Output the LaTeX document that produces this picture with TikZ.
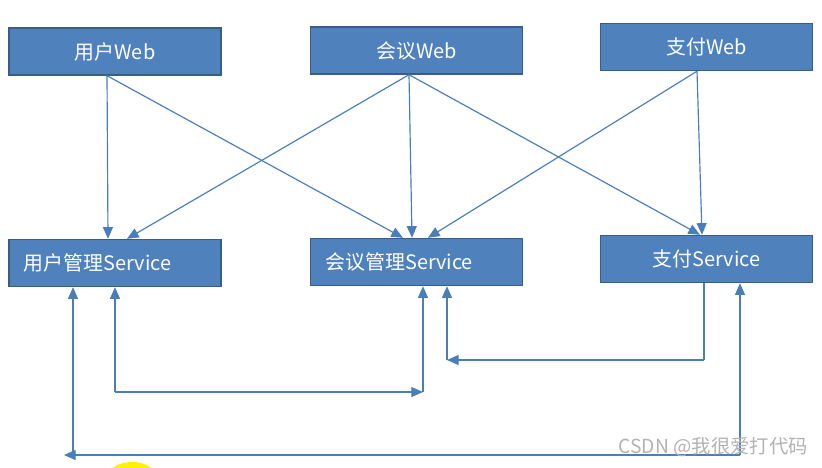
\documentclass[tikz,border=0pt]{standalone}
\usepackage{fontspec}
\setmainfont{Noto Sans CJK SC}
\usetikzlibrary{arrows.meta,calc}
\definecolor{boxblue}{HTML}{4F81BD}
\definecolor{boxedge}{HTML}{385D8A}
\definecolor{linkblue}{HTML}{4A7EBB}
\tikzset{
  svcbox/.style={draw=boxedge,line width=1.2pt,fill=boxblue,text=white,
    minimum width=6.36cm,minimum height=1.41cm,inner sep=0pt,
    font=\fontsize{17}{20}\selectfont},
  leftbox/.style={svcbox,align=left,text width=5.46cm,inner xsep=0.45cm},
  link/.style={draw=linkblue,line width=1pt,-{Triangle[length=0.35cm,width=0.3cm]}},
  plain/.style={draw=linkblue,line width=1pt}
}
\begin{document}
\begin{tikzpicture}[x=0.03cm,y=-0.03cm]
\useasboundingbox (0,0) rectangle (822,467);
% cursor mark
\begin{scope}
\clip (0,0) rectangle (822,467);
\fill[yellow] (132,474) ellipse (22 and 12);
\end{scope}
% web layer
\node[svcbox] (uweb) at (115,51.5) {用户Web};
\node[svcbox] (mweb) at (416.5,50.5) {会议Web};
\node[svcbox] (pweb) at (706.5,47) {支付Web};
% service layer
\node[leftbox] (usvc) at (115,263) {用户管理Service};
\node[leftbox] (msvc) at (416.5,262) {会议管理Service};
\node[svcbox] (psvc) at (706.5,259) {支付Service};
% web -> service
\draw[link] ($(uweb.south)+(-8,0)$) -- ($(usvc.north)+(-7,0)$);
\draw[link] ($(uweb.south)+(-8,0)$) -- ($(msvc.north)+(-13.5,0)$);
\draw[link] ($(mweb.south)+(-7.5,0)$) -- ($(usvc.north)+(12,0)$);
\draw[link] ($(mweb.south)+(-7.5,0)$) -- ($(msvc.north)+(-4.5,0)$);
\draw[link] ($(mweb.south)+(-7.5,0)$) -- ($(psvc.north)+(-6.5,0)$);
\draw[link] ($(pweb.south)+(-9.5,0)$) -- ($(psvc.north)+(-4.5,0)$);
\draw[link] ($(pweb.south)+(-9.5,0)$) -- ($(msvc.north)+(11.5,0)$);
% service <-> service
\coordinate (ua) at (115,392);
\coordinate (ub) at (423,392);
\draw[link] (ua) -- (usvc.south);
\draw[link] (ua) -- (ub);
\draw[link] (ub) -- ($(msvc.south)+(6.5,0)$);
\coordinate (pa) at (704,360);
\coordinate (pb) at (447,360);
\draw[plain] ($(psvc.south)+(-2.5,0)$) -- (pa);
\draw[link] (pa) -- (pb);
\draw[link] (pb) -- ($(msvc.south)+(30.5,0)$);
\coordinate (la) at (740,455);
\coordinate (lb) at (73,455);
\coordinate (lc) at (64,455);
\draw[link] (la) -- ($(psvc.south)+(33.5,0)$);
\draw[link] (la) -- (lc);
\draw[link] (lb) -- ($(usvc.south)+(-42,0)$);
% watermark
\node[anchor=east,text=gray!60,font=\fontsize{16.5}{18}\selectfont,inner sep=0pt] (mark) at (808,447) {CSDN @我很爱打代码};
\end{tikzpicture}
\end{document}
